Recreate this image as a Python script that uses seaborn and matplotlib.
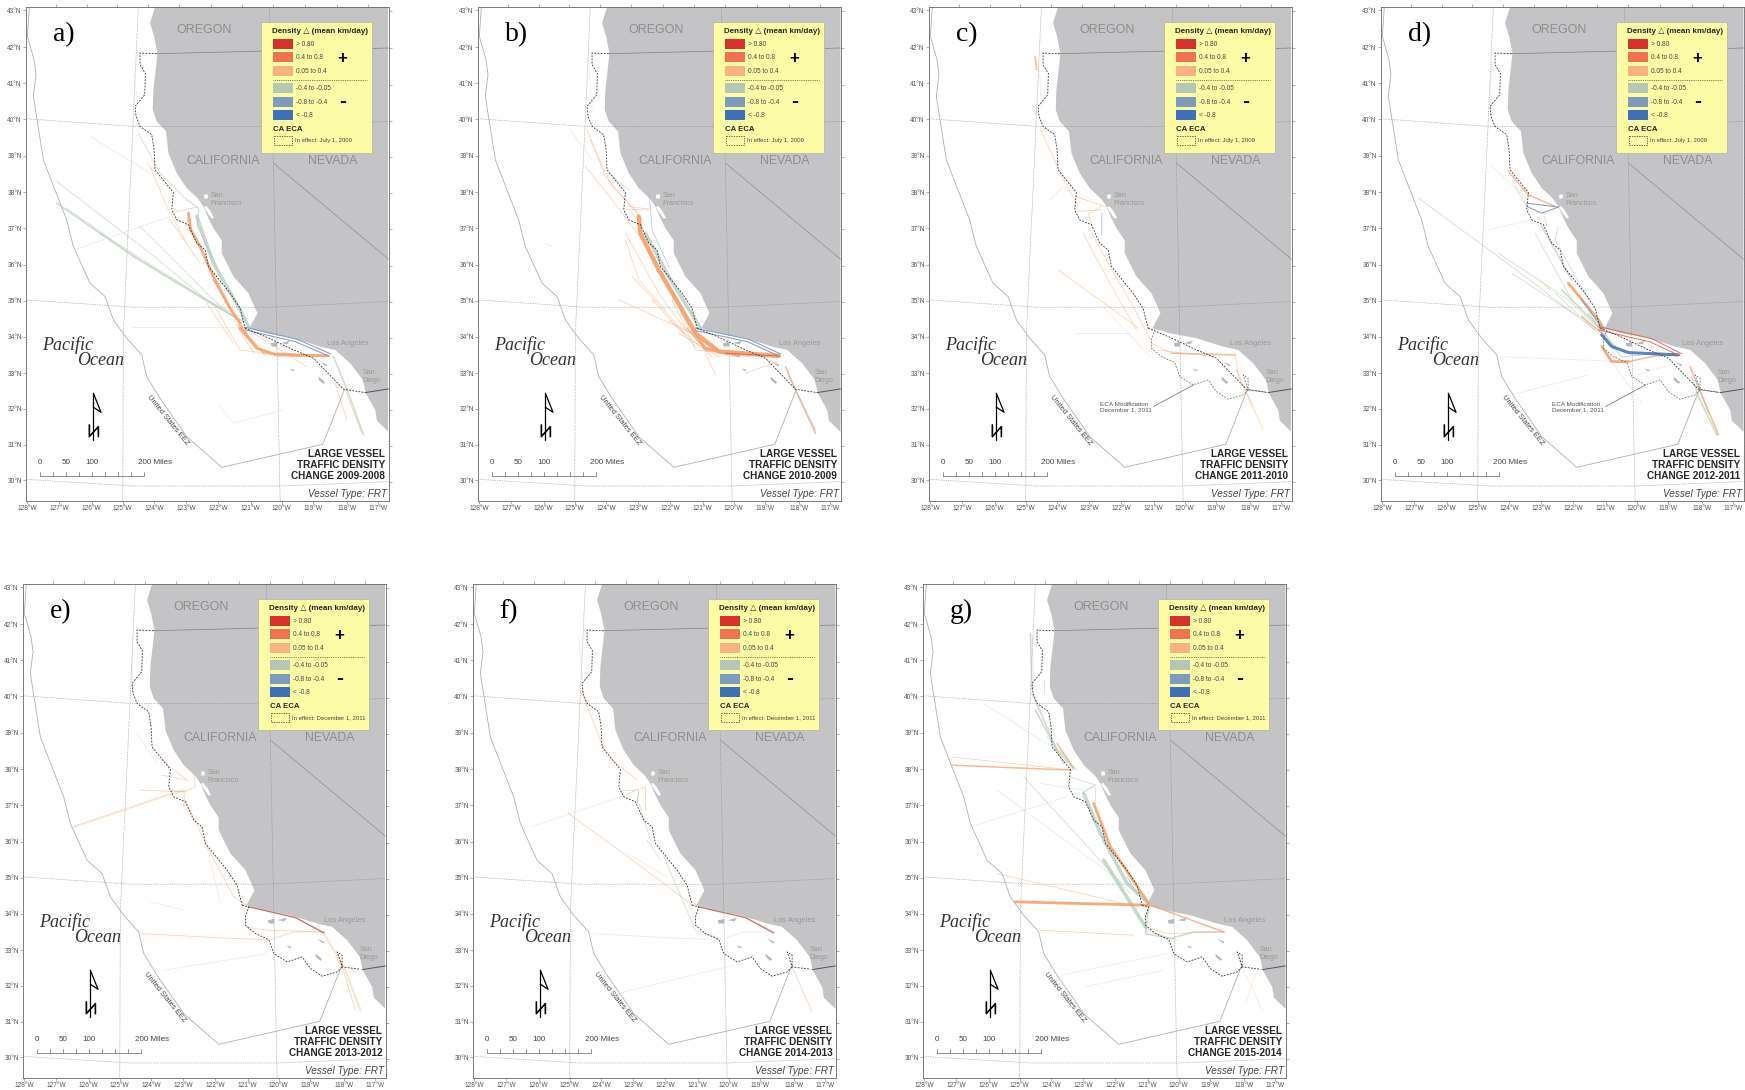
import matplotlib
matplotlib.use('Agg')
import matplotlib.pyplot as plt
import seaborn as sns
from matplotlib.patches import Rectangle

W, H = 1745, 1090
sns.set_style("white")
plt.rcParams['font.family'] = ['Liberation Sans', 'DejaVu Sans']

# all map positions are read off panel a) of the picture and shared by every panel
FRAME_LEFT = [26, 478, 929, 1381, 23, 473, 923]
FRAME_TOP = [7, 7, 7, 7, 584, 584, 584]
LETTERS = ['a)', 'b)', 'c)', 'd)', 'e)', 'f)', 'g)']
YEARS = ['2009-2008', '2010-2009', '2011-2010', '2012-2011', '2013-2012', '2014-2013', '2015-2014']
EFFECT = ['July 1, 2009'] * 4 + ['December 1, 2011'] * 3
HAS_OLD_ECA = [True, True, True, True, False, False, False]
HAS_NEW_ECA = [False, False, True, True, True, True, True]
HAS_NOTE = [False, False, True, True, False, False, False]

LAT_LABELS = [f'{v}°N' for v in range(43, 29, -1)]
LAT_Y = [32, 142, 250, 359, 468, 577, 685, 794, 902, 1011, 1120, 1227, 1335, 1441]
RIGHT_Y = [35, 145, 255, 365, 472, 581, 689, 798, 906, 1014, 1122, 1230, 1338, 1445]
LON_LABELS = [f'{v}°W' for v in range(128, 116, -1)]
LON_X = [82, 177, 275, 368, 463, 558, 655, 752, 845, 940, 1040, 1135]
TOP_X = [168, 260, 352, 445, 538, 632, 725, 818, 915, 1010, 1105]

LAND = [(465, 22), (450, 70), (462, 110), (472, 160), (468, 200), (460, 270), (458, 330), (470, 365),
        (498, 395), (505, 460), (530, 520), (560, 565), (595, 598), (610, 620), (625, 655),
        (640, 685), (665, 722), (665, 760), (700, 830), (745, 880), (772, 940), (748, 985),
        (800, 1000), (880, 1015), (960, 1040), (1005, 1050), (1050, 1090), (1088, 1140), (1097, 1180),
        (1125, 1230), (1130, 1262), (1165, 1296), (1165, 22)]
BAY_1 = [(612, 585), (622, 583), (624, 595), (613, 597)]
BAY_2 = [(612, 622), (618, 618), (630, 632), (642, 655), (634, 656), (620, 636)]
ISLANDS = [[(812, 1030), (832, 1026), (830, 1040), (815, 1040)], [(842, 1030), (870, 1022), (862, 1033)],
           [(868, 1106), (885, 1110), (878, 1114)], [(955, 1130), (975, 1147), (970, 1152), (956, 1140)],
           [(960, 1085), (982, 1095), (978, 1100)]]

EEZ = [(88, 22), (82, 110), (102, 180), (108, 225), (100, 290), (130, 480), (155, 545), (200, 660), (220, 740),
       (270, 850), (315, 890), (340, 960), (380, 1015), (425, 1065), (440, 1130), (480, 1195), (560, 1310),
       (665, 1402), (968, 1333), (1033, 1168)]
GRID_LAT = [[(78, 357), (400, 380), (808, 380), (1165, 365)],
            [(78, 900), (400, 922), (808, 922), (1165, 905)],
            [(78, 1438), (400, 1458), (840, 1458), (1165, 1445)]]
GRID_LON = [[(415, 22), (395, 460), (370, 1000), (368, 1503)],
            [(808, 22), (820, 500), (840, 1503)]]
BORDER_OR = [(470, 162), (1165, 145)]
BORDER_NV = [(820, 490), (1165, 778)]
BORDER_MX = [(1095, 1178), (1165, 1167)]

ECA_COMMON = [(470, 162), (420, 160), (420, 195), (436, 222), (434, 285), (405, 320), (408, 350), (420, 380),
              (455, 405), (462, 450), (465, 510), (520, 578), (515, 630), (530, 660), (565, 675), (590, 730),
              (615, 750), (625, 800), (690, 880), (720, 925), (735, 985)]
ECA_OLD = [(735, 985), (800, 1012), (880, 1050), (940, 1075), (1030, 1168), (1095, 1178)]
ECA_NEW = [(735, 985), (755, 990), (745, 1020), (745, 1045), (775, 1070), (815, 1088), (830, 1130), (870, 1155),
           (915, 1140), (940, 1175), (975, 1198), (1020, 1185), (1035, 1170), (1035, 1135), (1020, 1125),
           (1035, 1170), (1090, 1177)]
NOTE_LEADER = [(751, 1220), (871, 1155)]

NORTH_STEM = [(280, 1180), (280, 1320)]
NORTH_HEAD = [(280, 1180), (303, 1237), (280, 1222)]
NORTH_N = [(268, 1275), (268, 1310), (295, 1280), (295, 1310)]
SCALE_TICKS = [121, 160, 199, 238, 277, 316, 355, 394, 433]

LEGEND_LABELS = ['> 0.80', '0.4 to 0.8', '0.05 to 0.4', '-0.4 to -0.05', '-0.8 to -0.4', '< -0.8']
LEGEND_COLORS = ['#d8302a', '#ef7350', '#f9b281', '#b7c7b5', '#7f9abb', '#3f70b8']
LEGEND_Y = [118, 158, 200, 251, 292, 332]

# traffic tracks of each panel, by density class
TRACKS_A = {
    'o_xw': [[(565, 640), (572, 690), (600, 740), (640, 830), (690, 925), (720, 970)],
             [(720, 985), (770, 1045), (830, 1065), (985, 1068)]],
    'o_w': [[(640, 840), (700, 945), (740, 1000)], [(715, 975), (790, 1060), (900, 1068)], [(830, 1060), (985, 1068)]],
    'o': [[(450, 500), (500, 620), (560, 730)], [(650, 930), (720, 1050), (830, 1065)], [(1005, 1150), (1040, 1260)],
          [(1035, 1170), (1085, 1300)], [(530, 635), (590, 622)], [(565, 640), (560, 680)], [(720, 975), (920, 1100)],
          [(510, 660), (600, 790)], [(620, 910), (700, 1030)], [(700, 960), (760, 1060)]],
    'o_f': [[(395, 190), (412, 300)], [(440, 490), (510, 570)], [(660, 1220), (700, 1270), (850, 1230)]],
    'g_f': [[(510, 650), (228, 748)], [(390, 980), (725, 980)], [(270, 410), (450, 520)]],
    'g': [[(170, 545), (450, 760), (620, 900), (720, 950)], [(300, 700), (630, 905), (720, 960)],
          [(415, 400), (480, 520), (560, 600)], [(420, 680), (640, 900)], [(200, 625), (420, 780), (700, 950)],
          [(640, 900), (725, 970)]],
    'g_w': [[(170, 610), (400, 770), (640, 915), (730, 965)], [(1000, 1070), (1045, 1180), (1090, 1305)]],
    'g_xw': [[(590, 650), (640, 790), (720, 930), (745, 980)]],
    'b': [[(595, 625), (592, 680), (650, 800)], [(560, 600), (595, 625)]],
    'b_w': [[(735, 982), (890, 1018), (992, 1062)], [(735, 990), (885, 1025), (985, 1068)]],
}
TRACKS_B = {
    'o_xxw': [[(560, 650), (565, 700), (620, 810), (690, 930), (730, 1000), (800, 1055), (980, 1068)]],
    'o_xw': [[(720, 990), (760, 1045), (860, 1068)]],
    'o_w': [[(1000, 1100), (1030, 1170), (1090, 1300)], [(705, 985), (760, 1050), (860, 1066)]],
    'o': [[(405, 390), (460, 530), (570, 660)], [(400, 500), (480, 600), (570, 720), (670, 900), (710, 985)],
          [(520, 630), (590, 628)], [(520, 700), (620, 880), (700, 990)], [(500, 900), (720, 1000)],
          [(660, 900), (730, 1050)], [(700, 990), (830, 1070)], [(730, 1050), (900, 1072)], [(540, 640), (570, 680)],
          [(880, 1120), (975, 1085)], [(520, 720), (560, 840), (640, 930)], [(760, 1060), (790, 1125)],
          [(415, 420), (480, 560), (560, 640)], [(530, 620), (590, 628)], [(540, 830), (700, 1000)],
          [(600, 900), (730, 1040)], [(650, 960), (780, 1070)], [(680, 1000), (800, 1070)]],
    'o_f': [[(410, 180), (420, 330)], [(355, 390), (420, 480)], [(280, 730), (300, 740)]],
    'r': [[(820, 1060), (980, 1068)]],
    'g_xw': [[(580, 700), (650, 830), (730, 960), (745, 985)]],
    'g': [[(470, 520), (530, 570)]],
    'b': [[(590, 580), (595, 625), (600, 690), (650, 800)], [(1010, 1130), (1090, 1290)]],
    'b_w': [[(730, 985), (890, 1018), (985, 1062)], [(730, 992), (885, 1025), (980, 1068)]],
}
TRACKS_C = {
    'o_w': [[(396, 170), (401, 210)], [(806, 1060), (996, 1065)]],
    'o': [[(411, 385), (476, 530), (526, 620)], [(516, 590), (606, 620), (636, 620)], [(521, 635), (596, 630)],
          [(556, 640), (566, 680)], [(466, 810), (706, 985)], [(996, 1060), (1006, 1130), (1081, 1290)],
          [(596, 620), (560, 640)], [(540, 700), (620, 850), (700, 990)], [(760, 1050), (930, 1070)],
          [(1000, 1110), (1050, 1220)], [(556, 680), (626, 810), (696, 930), (746, 1030), (806, 1060)]],
    'o_f': [[(410, 220), (415, 330)], [(440, 600), (480, 560)], [(600, 920), (740, 1070)]],
    'g_f': [[(600, 640), (596, 720)], [(520, 1000), (680, 1000)]],
    'b': [[(596, 640), (595, 705)]],
}
TRACKS_D = {
    'o_xw': [[(640, 850), (730, 960), (745, 985)], [(740, 1040), (770, 1085), (820, 1085)]],
    'o_w': [[(460, 515), (520, 585), (600, 620)], [(820, 1085), (900, 1068), (970, 1065)], [(1005, 1100), (1090, 1305)],
            [(680, 950), (740, 1000)]],
    'o': [[(566, 640), (575, 680)], [(555, 840), (585, 870)]],
    'o_f': [[(410, 180), (405, 330)], [(780, 1100), (860, 1210)], [(430, 1070), (800, 1085)]],
    'g_f': [[(410, 500), (520, 600)], [(450, 1190), (700, 1125)], [(400, 690), (530, 660)], [(850, 1125), (960, 1090)]],
    'g': [[(190, 595), (470, 800), (720, 990)], [(430, 760), (640, 900), (730, 985)], [(470, 820), (670, 950)],
          [(540, 700), (650, 900)], [(610, 680), (600, 720), (700, 900)], [(480, 560), (515, 620)], [(600, 880), (740, 1010)]],
    'g_w': [[(1010, 1130), (1030, 1190), (1085, 1305)], [(700, 940), (745, 1000), (780, 1040)], [(560, 680), (650, 840)],
            [(620, 870), (740, 990)]],
    'b_w': [[(515, 610), (610, 622)], [(515, 620), (560, 640), (610, 622)], [(680, 900), (745, 990)]],
    'bb': [[(740, 1005), (770, 1040), (820, 1058), (970, 1065)]],
    'b': [[(745, 1010), (800, 1070), (900, 1062)], [(1020, 1140), (1060, 1240)]],
    'r': [[(730, 980), (890, 1016), (980, 1062)], [(730, 990), (885, 1026), (975, 1068)]],
}
TRACKS_E = {
    'o_s': [[(755, 990), (895, 1022), (980, 1068)], [(230, 750), (510, 655), (560, 640)], [(980, 1070), (1040, 1170), (1090, 1300)]],
    'o': [[(480, 540), (570, 610)], [(560, 645), (595, 630)], [(560, 690), (565, 640)],
          [(565, 670), (630, 810), (710, 960), (755, 990)], [(745, 1050), (810, 1060), (985, 1065)],
          [(1035, 1170), (1075, 1300)], [(430, 640), (560, 645)], [(595, 630), (590, 590)], [(1015, 1140), (1035, 1170)],
          [(430, 1070), (710, 1085), (820, 1088), (890, 1065), (985, 1065)]],
    'o_f': [[(405, 180), (405, 350)], [(420, 470), (480, 560)], [(500, 1180), (810, 1130)], [(460, 975), (560, 1000)],
            [(630, 810), (670, 980)]],
    'g': [[(495, 595), (570, 610)], [(520, 640), (560, 645)]],
    'm': [[(755, 990), (895, 1022), (980, 1068)]],
}
TRACKS_F = {
    'o_s': [[(755, 990), (895, 1022), (980, 1068)]],
    'o': [[(365, 710), (570, 860), (730, 980)], [(525, 660), (565, 640), (595, 630)], [(405, 350), (480, 540)],
          [(490, 545), (570, 610)], [(595, 630), (595, 700)], [(1035, 1170), (1095, 1305)], [(730, 970), (755, 990)],
          [(600, 790), (640, 850)]],
    'o_f': [[(395, 180), (410, 350)], [(250, 750), (520, 660)], [(530, 1245), (860, 1165)], [(660, 900), (540, 830)]],
    'g_f': [[(430, 1070), (710, 1085), (820, 1088), (890, 1065), (985, 1065)]],
    'g': [[(650, 840), (745, 1060)], [(745, 1060), (820, 1085)], [(525, 640), (565, 640)], [(570, 660), (610, 790)]],
    'b': [[(575, 640), (570, 680)]],
    'm': [[(755, 990), (895, 1022), (980, 1068)]],
}
TRACKS_G = {
    'o_xw': [[(590, 680), (640, 810), (755, 980)], [(355, 975), (755, 985)]],
    'o_w': [[(480, 500), (530, 575)], [(760, 985), (980, 1065)], [(165, 565), (520, 580)]],
    'o': [[(160, 540), (530, 580)], [(440, 310), (440, 350)], [(300, 890), (680, 980)], [(595, 630), (595, 680)],
          [(1025, 1130), (1035, 1170)], [(430, 1060), (710, 1075)], [(760, 1055), (810, 1070), (985, 1065)]],
    'o_f': [[(490, 1195), (810, 1130)], [(1035, 1170), (1095, 1300)], [(560, 1230), (800, 1180)], [(1080, 1180), (1045, 1280)]],
    'g_f': [[(260, 380), (510, 540)], [(405, 170), (410, 340)], [(220, 750), (510, 660)], [(300, 640), (680, 920)],
            [(430, 620), (560, 640)]],
    'g': [[(520, 600), (595, 625)], [(450, 480), (540, 580)], [(380, 600), (700, 950)], [(745, 1060), (840, 1090)]],
    'g_w': [[(405, 350), (480, 520), (530, 575)], [(755, 990), (745, 1070), (820, 1085), (890, 1065), (980, 1065)],
            [(415, 400), (500, 560)], [(400, 170), (405, 340)]],
    'g_xw': [[(560, 650), (610, 770), (690, 920), (755, 980)], [(620, 850), (745, 1050)]],
    'b': [[(560, 645), (595, 625)], [(690, 900), (720, 950)]],
}
TRACKS = [TRACKS_A, TRACKS_B, TRACKS_C, TRACKS_D, TRACKS_E, TRACKS_F, TRACKS_G]

STYLES = {
    'g_f': ('#c2cfc2', 0.6, 0.35), 'o_f': ('#f9c4a0', 0.6, 0.35), 'o_s': ('#f9c4a0', 1.6, 0.45),
    'g': ('#b8cbb8', 0.6, 0.6), 'g_w': ('#b8cbb8', 1.2, 0.65), 'g_xw': ('#aec8b4', 2.6, 0.7),
    'o': ('#f9b281', 0.55, 0.6), 'o_w': ('#f8a878', 1.1, 0.8), 'o_xw': ('#f7a26e', 2.0, 0.9),
    'o_xxw': ('#f7a26e', 3.2, 0.95), 'b': ('#a8c2da', 0.6, 0.8), 'b_w': ('#7f9abb', 0.8, 0.9),
    'bb': ('#3f70b8', 2.2, 0.85), 'r': ('#e0604a', 0.7, 0.9), 'm': ('#a06a68', 0.8, 0.9),
}


def draw(ax, pts, color, lw, alpha=1.0, **kw):
    xs = [p[0] for p in pts]
    ys = [p[1] for p in pts]
    sns.lineplot(x=xs, y=ys, sort=False, estimator=None, color=color, linewidth=lw, alpha=alpha, ax=ax, legend=False, **kw)


fig = plt.figure(figsize=(W / 100, H / 100), dpi=100, facecolor='white')

for i in range(7):
    ax = fig.add_axes([FRAME_LEFT[i] / W, 1 - (FRAME_TOP[i] + 494) / H, 362.5 / W, 494 / H])
    ax.fill([p[0] for p in LAND], [p[1] for p in LAND], color='#c4c4c6', lw=0, zorder=0)
    for bay in [BAY_1, BAY_2]:
        ax.fill([p[0] for p in bay], [p[1] for p in bay], color='white', lw=0, zorder=0.5)
    for isl in ISLANDS:
        ax.fill([p[0] for p in isl], [p[1] for p in isl], color='#b4b9be', lw=0, zorder=0.5)

    for g in GRID_LAT + GRID_LON:
        draw(ax, g, '#888888', 0.5, linestyle=(0, (1, 1.5)))
    draw(ax, EEZ, '#b0b0b0', 0.6)
    draw(ax, BORDER_OR, '#808080', 0.5)
    draw(ax, BORDER_NV, '#909090', 0.5)
    draw(ax, BORDER_MX, '#555555', 0.7)

    for key, (color, lw, alpha) in STYLES.items():
        for pts in TRACKS[i].get(key, []):
            draw(ax, pts, color, lw, alpha)

    draw(ax, ECA_COMMON, '#333333', 0.6, linestyle=(0, (2.2, 1.6)))
    if HAS_OLD_ECA[i]:
        draw(ax, ECA_OLD, '#333333', 0.6, linestyle=(0, (2.2, 1.6)))
    if HAS_NEW_ECA[i]:
        col = '#777777' if HAS_OLD_ECA[i] else '#333333'
        draw(ax, ECA_NEW, col, 0.6, linestyle=(0, (2.2, 1.6)))
    if HAS_NOTE[i]:
        draw(ax, NOTE_LEADER, '#666666', 0.5)
        ax.text(591, 1222, 'ECA Modification\nDecember 1, 2011', fontsize=4.6, color='#555555', va='center', linespacing=1.2)

    # place names
    ax.text(611, 91, 'OREGON', fontsize=9, color='#8e8e8e', ha='center', va='center')
    ax.text(670, 485, 'CALIFORNIA', fontsize=8.8, color='#8e8e8e', ha='center', va='center')
    ax.text(998, 485, 'NEVADA', fontsize=8.8, color='#8e8e8e', ha='center', va='center')
    ax.text(632, 598, 'San\nFrancisco', fontsize=5.2, color='#999999', va='center', linespacing=1.15)
    ax.text(982, 1030, 'Los Angeles', fontsize=5.4, color='#999999', va='center')
    ax.text(1088, 1130, 'San\nDiego', fontsize=5.2, color='#999999', va='center', linespacing=1.15)
    ax.text(125, 1037, 'Pacific', fontsize=13, family='Liberation Serif', style='italic', color='#333333', va='center')
    ax.text(230, 1083, 'Ocean', fontsize=13, family='Liberation Serif', style='italic', color='#333333', va='center')
    ax.text(502, 1260, 'United States EEZ', fontsize=5.4, color='#444444', rotation=-51, ha='center', va='center', rotation_mode='anchor')
    ax.text(158, 105, LETTERS[i], fontsize=20, family='Liberation Serif', color='black', va='center')

    # north arrow and scale bar
    draw(ax, NORTH_STEM, 'black', 0.9)
    draw(ax, NORTH_HEAD, 'black', 0.9)
    draw(ax, NORTH_N, 'black', 1.2)
    draw(ax, [(SCALE_TICKS[0], 1428), (SCALE_TICKS[-1], 1428)], '#666666', 0.5)
    for t in SCALE_TICKS:
        draw(ax, [(t, 1428), (t, 1415)], '#666666', 0.5)
    for t, s in zip([121, 199, 277], ['0', '50', '100']):
        ax.text(t, 1388, s, fontsize=5.8, color='#444444', ha='center', va='center')
    ax.text(414, 1388, '200 Miles', fontsize=5.8, color='#444444', va='center')

    # map title
    ax.text(1155, 1395, f'LARGE VESSEL\nTRAFFIC DENSITY\nCHANGE {YEARS[i]}', fontsize=7.2, fontweight='bold',
            color='#262626', ha='right', va='center', ma='right', linespacing=1.13)
    ax.text(1160, 1482, 'Vessel Type: FRT', fontsize=7.2, style='italic', color='#444444', ha='right', va='center')

    # legend box
    ax.add_patch(Rectangle((783, 66), 332, 394, fc='#fdfca6', ec='#b0b0a8', lw=0.5, zorder=5))
    ax.text(817, 95, 'Density △ (mean km/day)', fontsize=5.8, fontweight='bold', color='#262626', va='center', zorder=6)
    for lab, c, y in zip(LEGEND_LABELS, LEGEND_COLORS, LEGEND_Y):
        ax.add_patch(Rectangle((818, y), 60, 30, fc=c, ec='none', zorder=6))
        ax.text(888, y + 16, lab, fontsize=4.7, color='#444444', va='center', zorder=6)
    ax.text(1025, 176, '+', fontsize=12, fontweight='bold', color='black', ha='center', va='center', zorder=6)
    ax.text(1027, 305, '-', fontsize=15, fontweight='bold', color='black', ha='center', va='center', zorder=6)
    ax.plot([820, 1100], [241, 241], color='#555533', lw=0.6, ls=(0, (1, 1.2)), zorder=6)
    ax.text(820, 388, 'CA ECA', fontsize=5.6, fontweight='bold', color='#262626', va='center', zorder=6)
    ax.add_patch(Rectangle((821, 408), 54, 29, fc='none', ec='#333333', lw=0.5, ls=(0, (2, 1.5)), zorder=6))
    ax.text(885, 422, f'In effect: {EFFECT[i]}', fontsize=4.3, color='#444444', va='center', zorder=6)

    ax.set_xlim(78, 1165)
    ax.set_ylim(1503, 22)
    ax.set_xticks(LON_X, LON_LABELS)
    ax.set_yticks(LAT_Y, LAT_LABELS)
    ax.tick_params(axis='both', length=2, width=0.4, color='#777777', labelsize=4.7, labelcolor='#555555', pad=1, left=True, bottom=True)
    top = ax.secondary_xaxis('top')
    top.set_xticks(TOP_X, [''] * len(TOP_X))
    top.tick_params(length=2, width=0.4, color='#777777')
    right = ax.secondary_yaxis('right')
    right.set_yticks(RIGHT_Y, [''] * len(RIGHT_Y))
    right.tick_params(length=2, width=0.4, color='#777777')
    for axis in [top, right]:
        for s in axis.spines.values():
            s.set_visible(False)
    for s in ax.spines.values():
        s.set_color('#666666')
        s.set_linewidth(0.6)

fig.savefig('out.png', dpi=100)
